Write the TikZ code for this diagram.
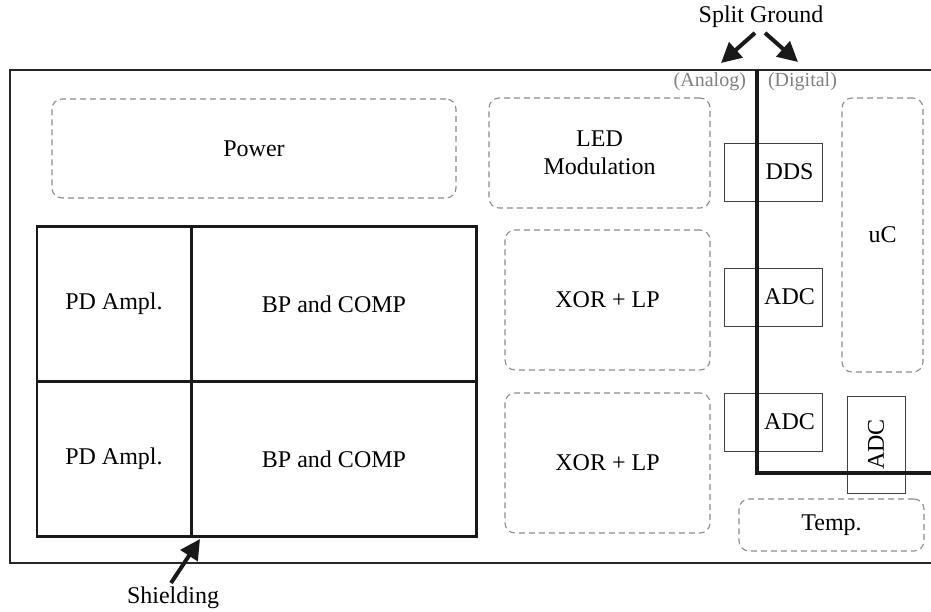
\documentclass[tikz,border=0pt]{standalone}
\usepackage{fontspec}
\setmainfont{Liberation Serif}
\usepackage{tikz}
\usetikzlibrary{positioning, arrows.meta, calc}

\begin{document}
\begin{tikzpicture}[
        x=0.5pt, y=-0.5pt,
        font=\fontsize{12}{14}\selectfont,
        board/.style={draw=black!85, line width=0.7pt},
        shield/.style={draw=black!90, line width=1.3pt, minimum height=77.5pt, inner sep=0pt},
        block/.style={draw=black!45, dashed, dash pattern=on 3pt off 2pt, rounded corners=5pt, line width=0.55pt, align=center, inner sep=0pt},
        chip/.style={draw=black!75, line width=0.5pt, minimum width=49pt, minimum height=29pt, inner sep=0pt},
        split/.style={draw=black!90, line width=1.6pt},
        pointer/.style={draw=black!90, line width=2pt, -{Triangle[length=10pt, width=10pt]}},
        side/.style={text=black!50, font=\fontsize{10}{12}\selectfont}
    ]
        \useasboundingbox (0,0) rectangle (931,611);

        % Board
        \draw[board] (931,70) -- (10,70) -- (10,563) -- (931,563);

        % Shielded area
        \node[shield, minimum width=77pt] (pda) at (114,304) {PD Ampl.};
        \node[shield, minimum width=142.5pt] (bpa) at (334,304) {BP and COMP};
        \node[shield, minimum width=77pt] (pdb) at (114,459) {PD Ampl.};
        \node[shield, minimum width=142.5pt] (bpb) at (334,459) {BP and COMP};

        % Dashed blocks
        \node[block, minimum width=202pt, minimum height=49.5pt] (power) at (254,148.5) {Power};
        \node[block, minimum width=110.5pt, minimum height=55pt] (led) at (599.5,153) {LED\\Modulation};
        \node[block, minimum width=102.5pt, minimum height=70pt] (xora) at (607.5,300) {XOR + LP};
        \node[block, minimum width=102.5pt, minimum height=70pt] (xorb) at (607.5,463) {XOR + LP};
        \node[block, minimum width=40.5pt, minimum height=137pt] (uc) at (882.5,235) {uC};
        \node[block, minimum width=92.5pt, minimum height=26pt] (temp) at (831.5,525) {Temp.};

        % Converters
        \node[chip] (dds) at (773,172) {};
        \node[chip] (adca) at (773,297) {};
        \node[chip] (adcb) at (773,422) {};
        \node[chip, minimum width=29pt, minimum height=48.5pt] (adcc) at (876,444.5) {};
        \node (ddst) at (789.5,172) {DDS};
        \node (adcat) at (789.5,297) {ADC};
        \node (adcbt) at (789.5,422) {ADC};
        \node[rotate=90] (adcct) at (adcc) {ADC};

        % Split ground
        \coordinate (gtop) at (757,70);
        \coordinate (gcorner) at (757,473);
        \coordinate (gend) at (931,473);
        \draw[split] (gtop) -- (gcorner) -- (gend);
        \node[side, anchor=east] (analog) at (753,82) {(Analog)};
        \node[side, anchor=west] (digital) at (761,82) {(Digital)};

        % Labels
        \node (ground) at (761,17) {Split Ground};
        \node (shielding) at (173,598) {Shielding};
        \coordinate (ga) at (721,63);
        \coordinate (gd) at (798,62);
        \coordinate (sh) at (200,539);
        \draw[pointer] ($(ground.south)+(-6,-2)$) -- (ga);
        \draw[pointer] ($(ground.south)+(4,-2)$) -- (gd);
        \draw[pointer] ($(shielding.north)+(-2,3)$) -- (sh);
    \end{tikzpicture}
\end{document}
